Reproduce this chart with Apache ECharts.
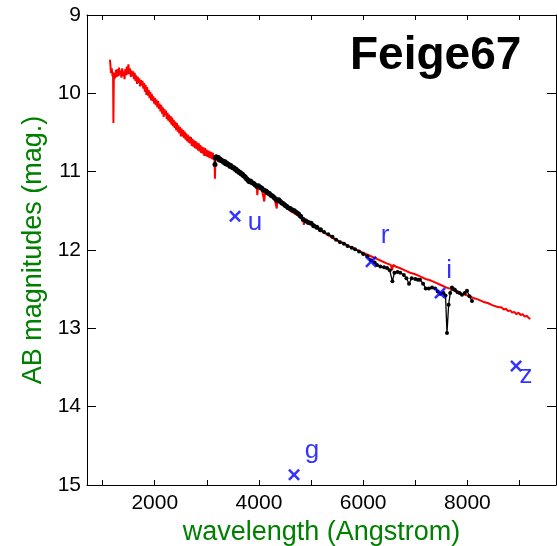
<!DOCTYPE html>
<html>
<head>
<meta charset="utf-8">
<script src="https://cdn.jsdelivr.net/npm/echarts@6/dist/echarts.min.js"></script>
<style>
html,body{margin:0;padding:0;background:#fff;}
#chart{width:557px;height:546px;}
</style>
</head>
<body>
<div id="chart"></div>
<script>
// ---- data ----
const titleText = 'Feige67';
const xAxisName = 'wavelength (Angstrom)';
const yAxisName = 'AB magnitudes (mag.)';
const xTickValues = [1000, 2000, 3000, 4000, 5000, 6000, 7000, 8000, 9000];
const xLabelValues = [2000, 4000, 6000, 8000];

// red spectrum (wavelength in Angstrom, AB mag)
const redWave = [1140,1150,1160,1175,1190,1200,1207,1214,1225,1240,1255,1270,1285,1300,1315,1330,1345,1360,1375,1390,1405,1420,1435,1450,1465,1480,1495,1510,1525,1540,1555,1570,1585,1600,1615,1630,1645,1660,1675,1690,1705,1720,1735,1750,1765,1780,1795,1810,1825,1840,1855,1870,1885,1900,1915,1930,1945,1960,1975,1990,2005,2020,2035,2050,2065,2080,2095,2110,2125,2140,2155,2170,2185,2200,2215,2230,2245,2260,2275,2290,2305,2320,2335,2350,2365,2380,2395,2410,2425,2440,2455,2470,2485,2500,2515,2530,2545,2560,2575,2590,2605,2620,2635,2650,2665,2680,2695,2710,2725,2740,2755,2770,2785,2800,2815,2830,2845,2860,2875,2890,2905,2920,2935,2950,2965,2980,2995,3010,3025,3040,3055,3070,3085,3100,3115,3130,3145,3155,3165,3180,3210,3240,3270,3300,3330,3360,3400,3440,3480,3520,3560,3600,3640,3680,3720,3760,3800,3840,3880,3920,3960,3968,3980,4020,4060,4090,4102,4115,4160,4200,4250,4300,4330,4341,4355,4400,4450,4500,4550,4600,4650,4700,4750,4800,4850,4862,4875,4950,5050,5150,5250,5350,5450,5550,5650,5750,5850,5950,6050,6150,6250,6350,6450,6530,6555,6575,6620,6700,6800,6900,7000,7100,7200,7300,7400,7500,7600,7700,7800,7900,8000,8100,8200,8300,8400,8500,8600,8650,8700,8740,8780,8820,8860,8900,8940,8980,9020,9060,9100,9140,9180,9210];
const redMag = [9.57,9.64,9.74,9.68,9.78,9.73,10.38,9.84,9.74,9.81,9.70,9.79,9.69,9.78,9.67,9.77,9.71,9.80,9.68,9.78,9.72,9.82,9.69,9.77,9.66,9.76,9.63,9.75,9.68,9.79,9.71,9.78,9.72,9.82,9.74,9.84,9.77,9.88,9.79,9.87,9.81,9.91,9.83,9.90,9.84,9.94,9.87,9.98,9.89,10.02,9.92,10.03,9.96,10.06,9.98,10.09,10.01,10.10,10.04,10.13,10.06,10.15,10.08,10.18,10.10,10.20,10.13,10.23,10.15,10.26,10.18,10.30,10.20,10.28,10.22,10.33,10.25,10.35,10.27,10.37,10.29,10.40,10.31,10.42,10.34,10.44,10.36,10.47,10.38,10.49,10.41,10.51,10.43,10.55,10.45,10.55,10.47,10.57,10.49,10.59,10.51,10.61,10.53,10.63,10.55,10.64,10.56,10.67,10.58,10.68,10.60,10.70,10.61,10.71,10.63,10.73,10.64,10.74,10.66,10.76,10.68,10.77,10.69,10.80,10.70,10.80,10.72,10.81,10.73,10.82,10.74,10.83,10.75,10.84,10.76,10.85,10.79,11.09,10.83,10.83,10.84,10.85,10.87,10.88,10.89,10.91,10.92,10.94,10.95,10.97,10.99,11.01,11.03,11.05,11.07,11.10,11.12,11.14,11.16,11.18,11.20,11.30,11.21,11.22,11.24,11.26,11.38,11.27,11.29,11.30,11.32,11.35,11.36,11.47,11.37,11.39,11.42,11.45,11.47,11.50,11.52,11.54,11.56,11.59,11.61,11.68,11.62,11.65,11.69,11.74,11.78,11.82,11.86,11.89,11.92,11.96,11.99,12.02,12.05,12.08,12.11,12.14,12.17,12.19,12.26,12.19,12.21,12.23,12.26,12.29,12.31,12.34,12.37,12.39,12.42,12.45,12.48,12.50,12.53,12.56,12.58,12.61,12.63,12.66,12.68,12.71,12.73,12.73,12.76,12.75,12.78,12.77,12.80,12.79,12.82,12.80,12.83,12.82,12.85,12.84,12.87,12.88];

// black spectrum
const blackWave = [3156,3162,3180,3200,3220,3240,3260,3280,3300,3320,3340,3360,3380,3400,3420,3440,3460,3480,3500,3520,3540,3560,3580,3600,3620,3640,3660,3680,3700,3720,3740,3760,3780,3800,3820,3840,3870,3900,3930,3960,3990,4020,4050,4080,4110,4140,4170,4200,4230,4260,4290,4320,4350,4380,4410,4440,4470,4500,4530,4560,4600,4640,4680,4720,4760,4800,4850,4900,4950,5000,5050,5110,5180,5250,5330,5410,5480,5555,5630,5700,5780,5843,5920,6000,6080,6150,6220,6265,6330,6400,6457,6510,6560,6600,6660,6710,6780,6830,6880,6930,7000,7050,7090,7150,7200,7260,7320,7380,7430,7480,7540,7580,7608,7640,7670,7704,7740,7762,7810,7850,7896,7950,7992,8040,8088];
const blackMag = [10.91,10.82,10.81,10.83,10.82,10.85,10.84,10.86,10.86,10.88,10.87,10.90,10.89,10.91,10.91,10.93,10.92,10.94,10.95,10.95,10.97,10.97,10.99,10.99,11.01,11.01,11.03,11.03,11.05,11.06,11.07,11.09,11.10,11.12,11.13,11.12,11.14,11.15,11.17,11.19,11.18,11.20,11.21,11.23,11.24,11.25,11.27,11.28,11.30,11.31,11.33,11.35,11.37,11.36,11.38,11.40,11.41,11.43,11.44,11.46,11.47,11.49,11.50,11.52,11.54,11.57,11.61,11.63,11.65,11.66,11.69,11.71,11.74,11.77,11.80,11.83,11.87,11.90,11.92,11.95,11.97,11.99,12.02,12.05,12.08,12.13,12.16,12.19,12.21,12.22,12.23,12.26,12.40,12.29,12.28,12.29,12.32,12.36,12.43,12.36,12.37,12.38,12.38,12.43,12.49,12.49,12.48,12.49,12.53,12.56,12.55,12.58,13.06,12.70,12.55,12.48,12.50,12.51,12.54,12.55,12.57,12.55,12.52,12.59,12.65];

// photometric points
const filterNames = ['u', 'g', 'r', 'i', 'z'];
const filterWave = [3541, 4673, 6151, 7475, 8934];
const filterMag = [11.57, 14.87, 12.15, 12.55, 13.48];

// ---- styles ----
const FONT = 'Liberation Sans, Arial, sans-serif';
const GREEN = '#008000';
const labelOffsets = { u: [20, 7], g: [18, -24], r: [14, -26], i: [9, -22], z: [10, 10] };
const crossPath = 'path://M0,1.5 L1.5,0 L5,3.5 L8.5,0 L10,1.5 L6.5,5 L10,8.5 L8.5,10 L5,6.5 L1.5,10 L0,8.5 L3.5,5 Z';

const redData = redWave.map((w, i) => [w, redMag[i]]);
const blackData = blackWave.map((w, i) => [w, blackMag[i]]);
const filterData = filterNames.map((n, i) => ({
  name: n,
  value: [filterWave[i], filterMag[i]],
  label: { offset: labelOffsets[n] }
}));

const axisLineStyle = { color: '#000', width: 1 };

const option = {
  animation: false,
  backgroundColor: '#fff',
  title: {
    text: titleText,
    left: 350,
    top: 33,
    padding: 0,
    textStyle: { fontSize: 46, fontWeight: 'bold', color: '#000', fontFamily: FONT }
  },
  grid: { left: 87, right: 1, top: 15, bottom: 61, containLabel: false, outerBoundsMode: 'none' },
  xAxis: [
    {
      type: 'value', min: 700, max: 9700, position: 'bottom',
      axisLine: { show: true, onZero: false, lineStyle: axisLineStyle },
      axisTick: { show: true, inside: true, length: 5, customValues: xTickValues, lineStyle: axisLineStyle },
      axisLabel: { customValues: xLabelValues, formatter: (v) => String(v), fontSize: 21, color: '#000', margin: 8, fontFamily: FONT },
      splitLine: { show: false },
      name: xAxisName, nameLocation: 'middle', nameGap: 25,
      nameTextStyle: { color: GREEN, fontSize: 27, fontFamily: FONT }
    },
    {
      type: 'value', min: 700, max: 9700, position: 'top',
      axisLine: { show: true, onZero: false, lineStyle: axisLineStyle },
      axisTick: { show: true, inside: true, length: 5, customValues: xTickValues, lineStyle: axisLineStyle },
      axisLabel: { show: false },
      splitLine: { show: false }
    }
  ],
  yAxis: [
    {
      type: 'value', inverse: true, min: 9, max: 15, interval: 1, position: 'left',
      axisLine: { show: true, onZero: false, lineStyle: axisLineStyle },
      axisTick: { show: true, inside: true, length: 9, lineStyle: axisLineStyle },
      axisLabel: { fontSize: 21, color: '#000', margin: 6, fontFamily: FONT },
      splitLine: { show: false },
      name: yAxisName, nameLocation: 'middle', nameGap: 32, nameRotate: 90,
      nameTextStyle: { color: GREEN, fontSize: 27, fontFamily: FONT }
    },
    {
      type: 'value', inverse: true, min: 9, max: 15, interval: 1, position: 'right',
      axisLine: { show: true, onZero: false, lineStyle: axisLineStyle },
      axisTick: { show: true, inside: true, length: 9, lineStyle: axisLineStyle },
      axisLabel: { show: false },
      splitLine: { show: false }
    }
  ],
  series: [
    {
      type: 'line', data: redData, xAxisIndex: 0, yAxisIndex: 0,
      showSymbol: false, lineStyle: { color: '#ff0000', width: 2 }, z: 2
    },
    {
      type: 'line', data: blackData, xAxisIndex: 0, yAxisIndex: 0,
      showSymbol: true, showAllSymbol: true, symbol: 'circle',
      symbolSize: (v) => (v[0] < 5200 ? 5 : 4),
      itemStyle: { color: '#000' },
      lineStyle: { color: '#000', width: 1.3 }, z: 3
    },
    {
      type: 'scatter', data: filterData, xAxisIndex: 0, yAxisIndex: 0,
      symbol: crossPath, symbolSize: 12,
      itemStyle: { color: '#0000ff' },
      label: {
        show: true, position: 'inside', formatter: '{b}',
        color: '#0000ff', fontSize: 26, fontFamily: FONT
      },
      z: 5
    }
  ]
};

const chart = echarts.init(document.getElementById('chart'), null, { renderer: 'canvas' });
chart.setOption(option);
</script>
</body>
</html>
